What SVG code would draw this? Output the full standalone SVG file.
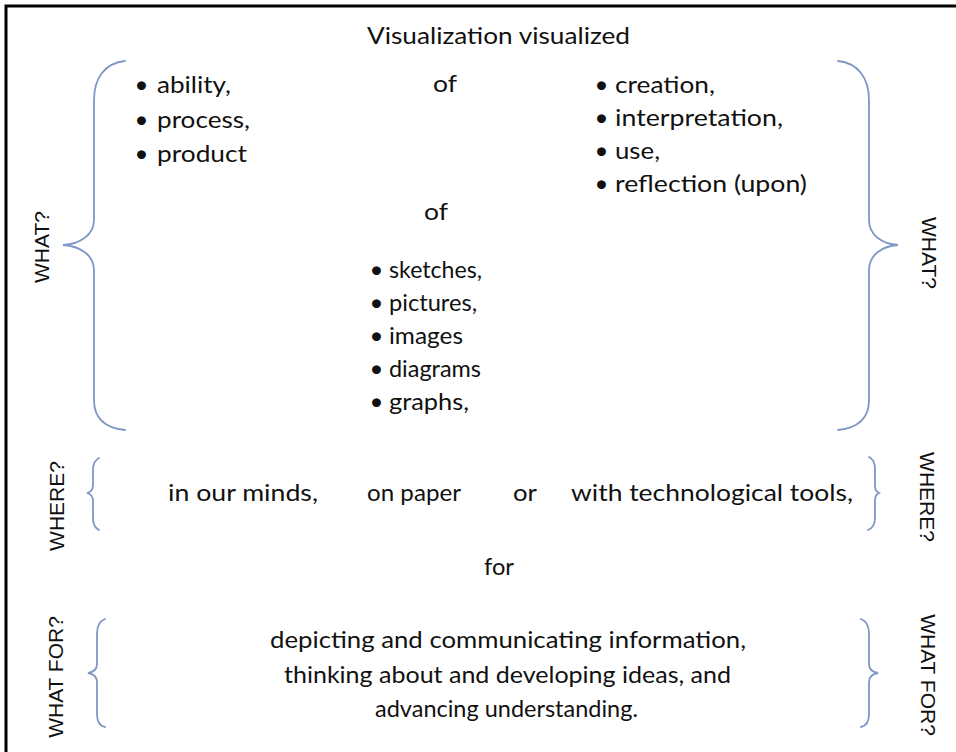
<svg xmlns="http://www.w3.org/2000/svg" width="956" height="752" viewBox="0 0 956 752">
  <style>
    .t { font-family: Lato, "Open Sans", "Liberation Sans", sans-serif; font-size: 24px; fill: #111; }
    .b { font-family: Lato, "Open Sans", "Liberation Sans", sans-serif; font-size: 24px; fill: #111; text-anchor: middle; }
    .side { font-family: "Liberation Sans", Arial, sans-serif; font-size: 21px; fill: #111; text-anchor: middle; }
    .brace { fill: none; stroke: #7f97c4; stroke-width: 1.8; stroke-linecap: round; }
  </style>
  <rect width="956" height="752" fill="#fff"/>
  <rect x="6" y="6" width="960" height="760" fill="none" stroke="#000" stroke-width="3"/>

  <g id="title"><text class="t" x="367" y="44" textLength="263" lengthAdjust="spacingAndGlyphs">Visualization visualized</text></g>

  <g id="what-list-1">
    <text class="b" x="141.5" y="93">•</text>
    <text class="b" x="141.5" y="128">•</text>
    <text class="b" x="141.5" y="162">•</text>
    <text class="t" x="157" y="93" textLength="74" lengthAdjust="spacingAndGlyphs">ability,</text>
    <text class="t" x="157" y="128" textLength="93" lengthAdjust="spacingAndGlyphs">process,</text>
    <text class="t" x="157" y="162" textLength="90" lengthAdjust="spacingAndGlyphs">product</text>
  </g>
  <g id="of-1"><text class="t" x="433" y="92" textLength="24" lengthAdjust="spacingAndGlyphs">of</text></g>
  <g id="what-list-2">
    <text class="b" x="601.5" y="93">•</text>
    <text class="b" x="601.5" y="126">•</text>
    <text class="b" x="601.5" y="159">•</text>
    <text class="b" x="601.5" y="192">•</text>
    <text class="t" x="615" y="93" textLength="100" lengthAdjust="spacingAndGlyphs">creation,</text>
    <text class="t" x="615" y="126" textLength="168" lengthAdjust="spacingAndGlyphs">interpretation,</text>
    <text class="t" x="615" y="159" textLength="45" lengthAdjust="spacingAndGlyphs">use,</text>
    <text class="t" x="615" y="192" textLength="192" lengthAdjust="spacingAndGlyphs">reflection (upon)</text>
  </g>
  <g id="of-2"><text class="t" x="424" y="220" textLength="24" lengthAdjust="spacingAndGlyphs">of</text></g>
  <g id="what-list-3">
    <text class="b" x="376.5" y="278">•</text>
    <text class="b" x="376.5" y="311">•</text>
    <text class="b" x="376.5" y="344">•</text>
    <text class="b" x="376.5" y="377">•</text>
    <text class="b" x="376.5" y="410">•</text>
    <text class="t" x="389" y="278" textLength="93" lengthAdjust="spacingAndGlyphs">sketches,</text>
    <text class="t" x="389" y="311" textLength="88" lengthAdjust="spacingAndGlyphs">pictures,</text>
    <text class="t" x="389" y="344" textLength="74" lengthAdjust="spacingAndGlyphs">images</text>
    <text class="t" x="389" y="377" textLength="92" lengthAdjust="spacingAndGlyphs">diagrams</text>
    <text class="t" x="389" y="410" textLength="80" lengthAdjust="spacingAndGlyphs">graphs,</text>
  </g>

  <g id="where-row">
    <text class="t" x="168" y="501" textLength="150" lengthAdjust="spacingAndGlyphs">in our minds,</text>
    <text class="t" x="367" y="501" textLength="94" lengthAdjust="spacingAndGlyphs">on paper</text>
    <text class="t" x="513" y="501" textLength="24" lengthAdjust="spacingAndGlyphs">or</text>
    <text class="t" x="571" y="501" textLength="282" lengthAdjust="spacingAndGlyphs">with technological tools,</text>
  </g>
  <g id="for"><text class="t" x="484" y="575" textLength="30" lengthAdjust="spacingAndGlyphs">for</text></g>
  <g id="what-for-text">
    <text class="t" x="270" y="648" textLength="476" lengthAdjust="spacingAndGlyphs">depicting and communicating information,</text>
    <text class="t" x="284" y="683" textLength="447" lengthAdjust="spacingAndGlyphs">thinking about and developing ideas, and</text>
    <text class="t" x="375" y="717" textLength="263" lengthAdjust="spacingAndGlyphs">advancing understanding.</text>
  </g>

  <g id="side-labels">
    <text class="side" transform="translate(49,247) rotate(-90)">WHAT?</text>
    <text class="side" transform="translate(922,253) rotate(90)">WHAT?</text>
    <text class="side" transform="translate(64,506) rotate(-90)">WHERE?</text>
    <text class="side" transform="translate(920,497) rotate(90)">WHERE?</text>
    <text class="side" transform="translate(63,677) rotate(-90)">WHAT FOR?</text>
    <text class="side" transform="translate(921,675) rotate(90)">WHAT FOR?</text>
  </g>

  <g id="connectors">
    <path class="brace" d="M125,61 C105,63 94,78 94,100 L94,220 C94,235 80,244 63,245 C80,246 94,255 94,270 L94,400 C94,418 105,428 125,430"/>
    <path class="brace" d="M838,61 C858,63 869,78 869,100 L869,220 C869,235 882,244 898,245 C882,246 869,255 869,270 L869,400 C869,418 858,428 838,430"/>
    <path class="brace" d="M99,458 C95,460 93,464 93,470 L93,485 C93,490 91,492 87,493 C91,494 93,496 93,501 L93,518 C93,524 95,528 99,530"/>
    <path class="brace" d="M869,457 C873,459 875,463 875,469 L875,486 C875,490 877,492 879,493 C877,494 875,496 875,500 L875,518 C875,524 873,528 868,530"/>
    <path class="brace" d="M105,619 C100,621 97,626 97,634 L97,664 C97,669 94,672 88,673 C94,674 97,677 97,682 L97,714 C97,722 100,726 105,727"/>
    <path class="brace" d="M861,619 C866,621 869,626 869,634 L869,664 C869,669 872,672 878,673 C872,674 869,677 869,682 L869,714 C869,722 866,726 861,727"/>
  </g>
</svg>
